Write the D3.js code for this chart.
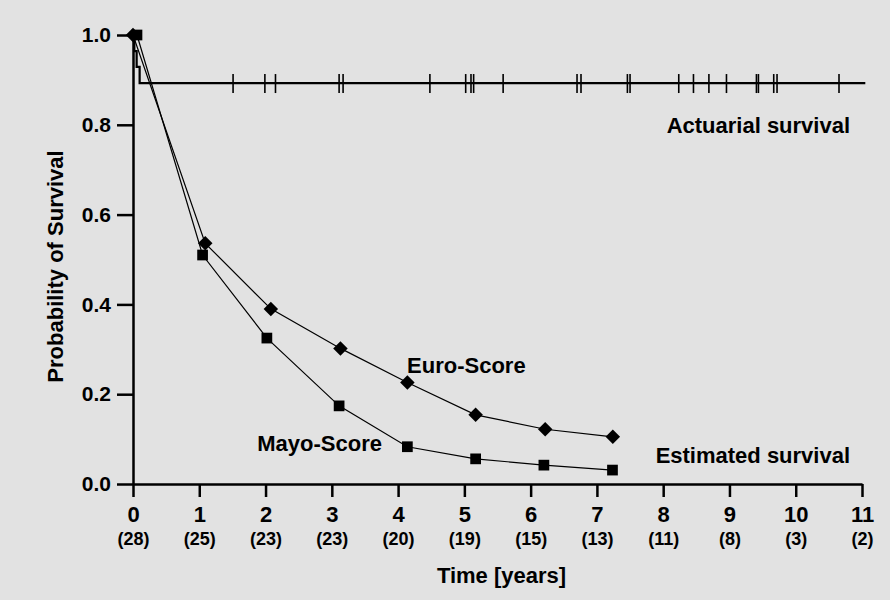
<!DOCTYPE html>
<html>
<head>
<meta charset="utf-8">
<script src="https://cdn.jsdelivr.net/npm/d3@7"></script>
<style>
  html, body { margin: 0; padding: 0; background: #e2e2e2; }
  svg { display: block; font-family: "Liberation Sans", Arial, sans-serif; font-weight: bold; }
</style>
</head>
<body>
<svg id="chart" width="890" height="600"></svg>
<script>
// time axis and patients at risk
const yearTicks = [0, 1, 2, 3, 4, 5, 6, 7, 8, 9, 10, 11];
const atRisk = [28, 25, 23, 23, 20, 19, 15, 13, 11, 8, 3, 2];
const probTicks = [0, 0.2, 0.4, 0.6, 0.8, 1.0];

// actuarial (Kaplan-Meier) survival steps
const actuarialTimes = [0, 0.02, 0.055, 0.1, 11.05];
const actuarialValues = [1.0, 0.964, 0.929, 0.893, 0.893];
// censored observations
const censorTimes = [1.51, 1.99, 2.15, 3.11, 3.17, 4.48, 5.02, 5.10, 5.14, 5.585, 6.70, 6.76,
  7.46, 7.50, 8.235, 8.457, 8.69, 8.955, 9.407, 9.437, 9.668, 9.718, 10.653];

// estimated survival
const euroTimes = [0.0, 1.09, 2.08, 3.13, 4.14, 5.17, 6.22, 7.24];
const euroValues = [1.0, 0.536, 0.39, 0.302, 0.226, 0.154, 0.122, 0.105];
const mayoTimes = [0.06, 1.05, 2.02, 3.11, 4.14, 5.17, 6.20, 7.235];
const mayoValues = [1.0, 0.51, 0.325, 0.174, 0.083, 0.056, 0.042, 0.031];

const svg = d3.select('#chart');
const x = d3.scaleLinear().domain([0, 11]).range([133, 862]);
const y = d3.scaleLinear().domain([0, 1]).range([484, 35]);

// axes
const yAxis = svg.append('g')
  .attr('transform', `translate(${x(0)},0)`)
  .call(d3.axisLeft(y).tickValues(probTicks).tickFormat(d3.format('.1f'))
    .tickSize(16).tickPadding(6).tickSizeOuter(0));
yAxis.selectAll('text').attr('font-size', 21).attr('fill', '#000');

const xAxis = svg.append('g')
  .attr('transform', `translate(0,${y(0)})`)
  .call(d3.axisBottom(x).tickValues(yearTicks).tickFormat(d3.format('d'))
    .tickSize(13).tickPadding(9).tickSizeOuter(0));
xAxis.selectAll('text').attr('font-size', 22).attr('fill', '#000');
xAxis.selectAll('.tick').append('text')
  .attr('y', 61)
  .attr('text-anchor', 'middle')
  .attr('font-size', 18)
  .attr('fill', '#000')
  .text((d, i) => `(${atRisk[i]})`);

svg.selectAll('.domain, .tick line')
  .attr('stroke', '#000')
  .attr('stroke-width', 2.5);

// axis titles
svg.append('text')
  .attr('x', (x(0) + x(11)) / 2 + 4)
  .attr('y', 583)
  .attr('text-anchor', 'middle')
  .attr('font-size', 22)
  .text('Time [years]');

svg.append('text')
  .attr('transform', `translate(63,${(y(0) + y(1)) / 2 + 7}) rotate(-90)`)
  .attr('text-anchor', 'middle')
  .attr('font-size', 22)
  .text('Probability of Survival');

// actuarial survival
const stepLine = d3.line()
  .x(d => x(d[0]))
  .y(d => y(d[1]))
  .curve(d3.curveStepAfter);

svg.append('path')
  .datum(d3.zip(actuarialTimes, actuarialValues))
  .attr('d', stepLine)
  .attr('fill', 'none')
  .attr('stroke', '#000')
  .attr('stroke-width', 2.2);

svg.selectAll('.censor')
  .data(censorTimes)
  .join('line')
  .attr('class', 'censor')
  .attr('x1', d => x(d)).attr('x2', d => x(d))
  .attr('y1', y(0.893) - 9).attr('y2', y(0.893) + 10)
  .attr('stroke', '#000')
  .attr('stroke-width', 1.6);

// estimated curves
const line = d3.line().x(d => x(d[0])).y(d => y(d[1]));
const euro = d3.zip(euroTimes, euroValues);
const mayo = d3.zip(mayoTimes, mayoValues);

[euro, mayo].forEach(series => {
  svg.append('path')
    .datum(series)
    .attr('d', line)
    .attr('fill', 'none')
    .attr('stroke', '#000')
    .attr('stroke-width', 1.2);
});

svg.selectAll('.diamond')
  .data(euro)
  .join('path')
  .attr('class', 'diamond')
  .attr('transform', d => `translate(${x(d[0])},${y(d[1])}) rotate(45)`)
  .attr('d', d3.symbol(d3.symbolSquare, 105)())
  .attr('fill', '#000');

svg.selectAll('.square')
  .data(mayo)
  .join('path')
  .attr('class', 'square')
  .attr('transform', d => `translate(${x(d[0])},${y(d[1])})`)
  .attr('d', d3.symbol(d3.symbolSquare, 115)())
  .attr('fill', '#000');

// curve labels
const labels = [
  { text: 'Actuarial survival', t: 10.82, v: 0.782, anchor: 'end' },
  { text: 'Estimated survival', t: 10.82, v: 0.047, anchor: 'end' },
  { text: 'Euro-Score', t: 4.135, v: 0.247, anchor: 'start' },
  { text: 'Mayo-Score', t: 3.757, v: 0.0735, anchor: 'end' }
];
svg.selectAll('.label')
  .data(labels)
  .join('text')
  .attr('class', 'label')
  .attr('x', d => x(d.t))
  .attr('y', d => y(d.v))
  .attr('text-anchor', d => d.anchor)
  .attr('font-size', 22)
  .text(d => d.text);
</script>
</body>
</html>
